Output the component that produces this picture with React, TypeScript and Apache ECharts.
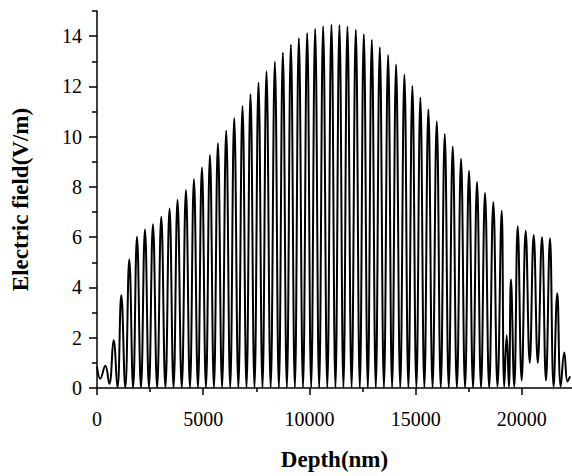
import React, { useEffect, useRef } from "react";
import * as echarts from "echarts";

// Leading low-amplitude wiggle near the surface: [depth nm, field V/m]
const startPoints: number[][] = [
  [0, 0.85], [155, 0.37], [390, 0.89], [580, 0.17],
];

// Oscillation maxima
const peakDepth = [
  781, 1143, 1519, 1882, 2258, 2634, 3025, 3415, 3791, 4187,
  4563, 4939, 5316, 5692, 6082, 6459, 6849, 7225, 7602, 7978,
  8373, 8749, 9126, 9502, 9893, 10269, 10645, 11036, 11412, 11788,
  12183, 12560, 12936, 13312, 13703, 14079, 14470, 14846, 15222, 15599,
  15994, 16370, 16746, 17137, 17513, 17889, 18266, 18656, 19051, 19286,
  19486, 19804, 20180, 20557, 20947, 21323, 21666, 21996,
];
const peakField = [
  1.9, 3.69, 5.11, 6.02, 6.31, 6.52, 6.81, 7.14, 7.49, 7.88,
  8.31, 8.77, 9.27, 9.74, 10.24, 10.74, 11.22, 11.69, 12.15, 12.6,
  12.98, 13.34, 13.66, 13.92, 14.12, 14.29, 14.39, 14.46, 14.44, 14.38,
  14.26, 14.08, 13.85, 13.56, 13.25, 12.87, 12.47, 12.02, 11.56, 11.09,
  10.61, 10.11, 9.61, 9.12, 8.64, 8.2, 7.76, 7.4, 7.05, 2.1,
  4.32, 6.44, 6.26, 6.09, 6.0, 5.96, 3.77, 1.41,
];

// Oscillation minima
const troughDepth = [
  962, 1331, 1700, 2070, 2446, 2830, 3220, 3603, 3989, 4375,
  4751, 5128, 5504, 5887, 6270, 6654, 7037, 7413, 7790, 8175,
  8561, 8937, 9314, 9697, 10081, 10457, 10840, 11224, 11600, 11985,
  12371, 12748, 13124, 13507, 13891, 14274, 14658, 15034, 15410, 15796,
  16182, 16558, 16941, 17325, 17701, 18077, 18461, 18853, 19170, 19390,
  19640, 19990, 20370, 20750, 21135, 21495, 21830, 22150, 22270,
];
const troughField = [
  0.02, 0.02, 0.02, 0.02, 0.02, 0.02, 0.02, 0.02, 0.02, 0.02,
  0.02, 0.02, 0.02, 0.02, 0.02, 0.02, 0.02, 0.02, 0.02, 0.02,
  0.02, 0.02, 0.02, 0.02, 0.02, 0.02, 0.02, 0.02, 0.02, 0.02,
  0.02, 0.02, 0.02, 0.02, 0.02, 0.02, 0.02, 0.02, 0.02, 0.02,
  0.02, 0.02, 0.02, 0.02, 0.02, 0.02, 0.02, 0.05, 0.05, 0.05,
  0.05, 0.3, 1.0, 1.0, 0.3, 0.06, 0.06, 0.26, 0.46,
];

const xTicks = [0, 5000, 10000, 15000, 20000];
const xMinorTicks = [2500, 7500, 12500, 17500];
const yTicks = [0, 2, 4, 6, 8, 10, 12, 14];
const yMinorTicks = [1, 3, 5, 7, 9, 11, 13, 15];

const X_MAX = 22360;
const Y_MAX = 15;
const FONT = "'Liberation Serif', 'Times New Roman', serif";

export default function App() {
  const ref = useRef<HTMLDivElement>(null);

  useEffect(() => {
    document.body.style.margin = "0";
    if (!ref.current) return;
    const chart = echarts.init(ref.current, undefined, { renderer: "svg" });

    const points: number[][] = [...startPoints];
    peakDepth.forEach((d, i) => points.push([d, peakField[i]]));
    troughDepth.forEach((d, i) => points.push([d, troughField[i]]));
    points.sort((a, b) => a[0] - b[0]);

    const axisLine = { show: true, lineStyle: { color: "#000", width: 1.5 } };
    const label = { fontFamily: FONT, fontSize: 20, color: "#000", formatter: (v: number) => String(v) };

    chart.setOption({
      animation: false,
      backgroundColor: "#fff",
      grid: { left: 97, top: 11, right: 0, bottom: 83, containLabel: false },
      xAxis: [
        {
          type: "value",
          min: 0,
          max: X_MAX,
          position: "bottom",
          axisLine,
          axisTick: { show: true, customValues: xTicks, length: 7, lineStyle: { color: "#000", width: 1.5 } },
          axisLabel: { ...label, customValues: xTicks, margin: 21 },
          splitLine: { show: false },
          name: "Depth(nm)",
          nameLocation: "middle",
          nameGap: 60,
          nameTextStyle: { fontFamily: FONT, fontSize: 23, fontWeight: "bold", color: "#000" },
        },
        {
          type: "value",
          min: 0,
          max: X_MAX,
          position: "bottom",
          axisLine: { show: false },
          axisTick: { show: true, customValues: xMinorTicks, length: 4, lineStyle: { color: "#000", width: 1.5 } },
          axisLabel: { show: false },
          splitLine: { show: false },
        },
      ],
      yAxis: [
        {
          type: "value",
          min: 0,
          max: Y_MAX,
          position: "left",
          axisLine,
          axisTick: { show: true, customValues: yTicks, length: 8, lineStyle: { color: "#000", width: 1.5 } },
          axisLabel: { ...label, customValues: yTicks, margin: 15 },
          splitLine: { show: false },
          name: "Electric field(V/m)",
          nameLocation: "middle",
          nameGap: 65,
          nameTextStyle: { fontFamily: FONT, fontSize: 23, fontWeight: "bold", color: "#000" },
        },
        {
          type: "value",
          min: 0,
          max: Y_MAX,
          position: "left",
          axisLine: { show: false },
          axisTick: { show: true, customValues: yMinorTicks, length: 5, lineStyle: { color: "#000", width: 1.5 } },
          axisLabel: { show: false },
          splitLine: { show: false },
        },
      ],
      series: [
        {
          type: "line",
          xAxisIndex: 0,
          yAxisIndex: 0,
          data: points,
          showSymbol: false,
          symbol: "none",
          smooth: 0.45,
          lineStyle: { color: "#000", width: 2 },
          clip: true,
        },
      ],
    });

    return () => chart.dispose();
  }, []);

  return <div ref={ref} style={{ width: 572, height: 476 }} />;
}
